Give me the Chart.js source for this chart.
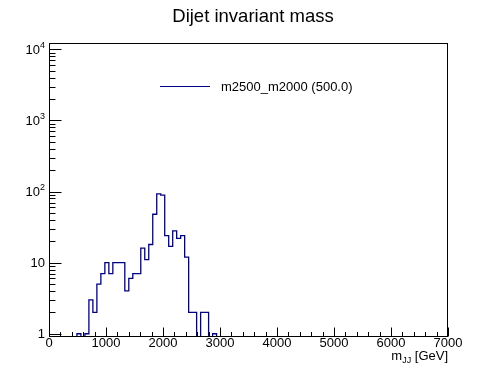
<!DOCTYPE html>
<html>
<head>
<meta charset="utf-8">
<script src="https://cdn.jsdelivr.net/npm/chart.js@4/dist/chart.umd.min.js"></script>
<style>
  html, body { margin: 0; padding: 0; background: #fff; }
  #wrap { width: 498px; height: 374px; }
</style>
</head>
<body>
<div id="wrap"><canvas id="myChart" width="498" height="374"></canvas></div>
<script>
/* global Chart */

var title = 'Dijet invariant mass';
var seriesName = 'm2500_m2000 (500.0)';
var binWidth = 70;
// entries per 70 GeV bin, 0 - 7000 GeV
var counts = [
  0, 0, 0, 0, 0, 0, 0, 1, 0, 1,
  3, 2, 5, 7, 10, 7, 10, 10, 10, 4,
  6, 7, 7, 16, 11, 18, 48, 93, 89, 24,
  17, 28, 22, 24, 12, 2, 2, 0, 2, 2,
  0, 1, 0, 0, 0, 0, 0, 0, 0, 0,
  0, 0, 0, 0, 0, 0, 0, 0, 0, 0,
  0, 0, 0, 0, 0, 0, 0, 0, 0, 0,
  0, 0, 0, 0, 0, 0, 0, 0, 0, 0,
  0, 0, 0, 0, 0, 0, 0, 0, 0, 0,
  0, 0, 0, 0, 0, 0, 0, 0, 0, 0
];
var xTicks = [0, 1000, 2000, 3000, 4000, 5000, 6000, 7000];
var xMinorStep = 200;
var yTicks = [1, 10, 100, 1000, 10000];
var yTickBase = ['1', '10', '10', '10', '10'];
var yTickExp = ['', '', '2', '3', '4'];
var yMin = 0.9;
var yMax = 12300;

var font = '"Liberation Sans", Arial, Helvetica, sans-serif';
var lineColor = '#000088';

var points = [];
for (var i = 0; i < counts.length; i++) {
  points.push({ x: i * binWidth, y: counts[i] > 0 ? counts[i] : yMin });
}
points.push({ x: counts.length * binWidth, y: yMin });

var rootStyle = {
  id: 'rootStyle',
  afterDraw: function(chart) {
    var ctx = chart.ctx;
    var a = chart.chartArea;
    var xs = chart.scales.x;
    var ys = chart.scales.y;
    var bottom = Math.round(a.bottom) - 0.5;
    var left = Math.round(a.left) + 0.5;

    ctx.save();
    ctx.strokeStyle = '#000';
    ctx.lineWidth = 1;
    ctx.strokeRect(left, Math.round(a.top) + 0.5, Math.round(a.right) - Math.round(a.left) - 1, Math.round(a.bottom) - Math.round(a.top) - 1);

    // x ticks, drawn inside the frame
    ctx.beginPath();
    for (var v = 0; v <= xs.max; v += xMinorStep) {
      var px = Math.round(xs.getPixelForValue(v)) + 0.5;
      var len = (v % 1000 === 0) ? 9 : 4.5;
      ctx.moveTo(px, bottom);
      ctx.lineTo(px, bottom - len);
    }
    // y ticks
    for (var d = 0; d < yTicks.length; d++) {
      for (var m = 1; m <= 9; m++) {
        var val = yTicks[d] * m;
        if (val > yMax) break;
        var py = Math.round(ys.getPixelForValue(val)) + 0.5;
        ctx.moveTo(left, py);
        ctx.lineTo(left + (m === 1 ? 12 : 6), py);
      }
    }
    ctx.stroke();

    ctx.fillStyle = '#000';
    ctx.font = '13px ' + font;
    ctx.textAlign = 'center';
    ctx.textBaseline = 'alphabetic';
    xTicks.forEach(function(t) {
      ctx.fillText(String(t), xs.getPixelForValue(t), 347);
    });

    ctx.textAlign = 'left';
    ctx.textBaseline = 'middle';
    yTicks.forEach(function(t, k) {
      var y = ys.getPixelForValue(t);
      ctx.font = '13px ' + font;
      var bw = ctx.measureText(yTickBase[k]).width;
      ctx.font = '9px ' + font;
      var ew = yTickExp[k] ? ctx.measureText(yTickExp[k]).width : 0;
      var x0 = 45 - bw - ew;
      ctx.font = '13px ' + font;
      ctx.fillText(yTickBase[k], x0, y + 1);
      if (yTickExp[k]) {
        ctx.font = '9px ' + font;
        ctx.fillText(yTickExp[k], x0 + bw, y - 4);
      }
    });

    // axis title m_JJ [GeV]
    ctx.textBaseline = 'alphabetic';
    ctx.font = '13px ' + font;
    var w1 = ctx.measureText('m').width;
    var w3 = ctx.measureText(' [GeV]').width;
    ctx.font = '9px ' + font;
    var w2 = ctx.measureText('JJ').width;
    var tx = a.right - w1 - w2 - w3;
    ctx.font = '13px ' + font;
    ctx.fillText('m', tx, 360);
    ctx.fillText(' [GeV]', tx + w1 + w2, 360);
    ctx.font = '9px ' + font;
    ctx.fillText('JJ', tx + w1, 363);

    // title
    ctx.font = '18.5px ' + font;
    ctx.textAlign = 'center';
    ctx.fillText(title, 253, 22);

    // legend
    ctx.strokeStyle = lineColor;
    ctx.beginPath();
    ctx.moveTo(160, 86.5);
    ctx.lineTo(210, 86.5);
    ctx.stroke();
    ctx.font = '13px ' + font;
    ctx.textAlign = 'left';
    ctx.textBaseline = 'middle';
    ctx.fillText(seriesName, 221, 87);
    ctx.restore();
  }
};

var chart1 = document.getElementById('myChart').getContext('2d');

new Chart(chart1, {
  type: 'line',
  data: {
    datasets: [{
      label: seriesName,
      data: points,
      borderColor: lineColor,
      borderWidth: 1.3,
      pointRadius: 0,
      fill: false,
      stepped: 'before'
    }]
  },
  options: {
    responsive: false,
    animation: false,
    events: [],
    layout: { padding: { left: 49, right: 50, top: 43, bottom: 37 } },
    plugins: { legend: { display: false }, title: { display: false }, tooltip: { enabled: false } },
    scales: {
      x: { type: 'linear', min: 0, max: 7000, display: false },
      y: { type: 'logarithmic', min: yMin, max: yMax, display: false }
    }
  },
  plugins: [rootStyle]
});
</script>
</body>
</html>
